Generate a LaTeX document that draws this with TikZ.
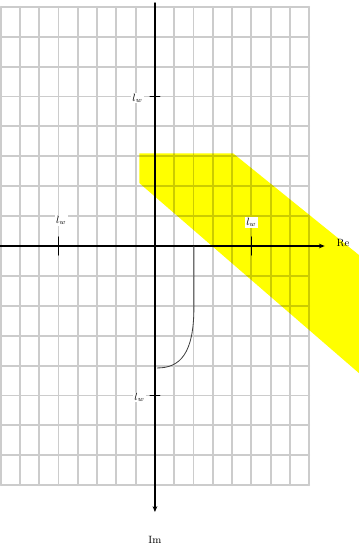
\documentclass[tikz,border=0pt]{standalone}
\usepackage{amsmath,amssymb}
\usepackage{tikz}
\usetikzlibrary{arrows.meta}

\begin{document}
\begin{tikzpicture}[x=0.579cm, y=0.897cm, line cap=round, line join=round, >=Stealth]

  \def\N{8}            % grid half-width (cells)
  \def\tk{5}           % tick position

  \useasboundingbox (-8.03,-10.17) rectangle (10.57,8.23);

  % Colors
  \definecolor{bandCol}{RGB}{255,255,0}
  \colorlet{curveCol}{black!75}

  \tikzset{
    ticklbl/.style={fill=white, inner sep=1pt, font=\small},
    axislbl/.style={inner sep=1pt, font=\small},
  }

  % Key points
  \coordinate (O)    at (0,0);
  \coordinate (xmin) at (-8.03,0);
  \coordinate (xmax) at (8.8,0);
  \coordinate (ytop) at (0,8.13);
  \coordinate (ybot) at (0,-8.9);

  % Shaded band
  \fill[bandCol] (-0.8,3.1) -- (4.05,3.1) -- (10.57,-0.3) -- (10.57,-4.25) -- (-0.8,2.1) -- cycle;

  % Grid (drawn over the band so it shows through)
  \draw[black, draw opacity=0.2, line width=1.6pt, step=1] (-\N,-\N) grid (\N,\N);

  % Axes
  \draw[-{Stealth[length=5pt,width=4pt]}, line width=1.2pt] (xmin) -- (xmax);
  \draw[-{Stealth[length=5pt,width=4pt]}, line width=1.2pt] (ytop) -- (ybot);
  \node[axislbl] (re) at (9.75,0.1) {Re};
  \node[axislbl] (im) at (0,-9.83) {Im};

  % Ticks and their labels
  \draw[line width=1.2pt] (\tk,-0.3) -- (\tk,0.3);
  \draw[line width=1.2pt] (-\tk,-0.3) -- (-\tk,0.3);
  \draw[line width=1.2pt] (-0.25,\tk) -- (0.25,\tk);
  \draw[line width=1.2pt] (-0.25,-\tk) -- (0.25,-\tk);
  \node[ticklbl] (tr) at (\tk,0.8)    {$l_w$};
  \node[ticklbl] (tl) at (-4.85,0.85) {$l_w$};
  \node[ticklbl] (tu) at (-0.9,4.95)  {$l_w$};
  \node[ticklbl] (td) at (-0.8,-5.05) {$l_w$};

  % Curve below the axis
  \coordinate (c0) at (2.02,0);
  \coordinate (c1) at (2.02,-2.05);
  \coordinate (c2) at (0.12,-4.08);
  \draw[curveCol, line width=0.7pt] (c0) -- (c1) .. controls (2.02,-3.6) and (1.3,-4.08) .. (c2);

\end{tikzpicture}
\end{document}
